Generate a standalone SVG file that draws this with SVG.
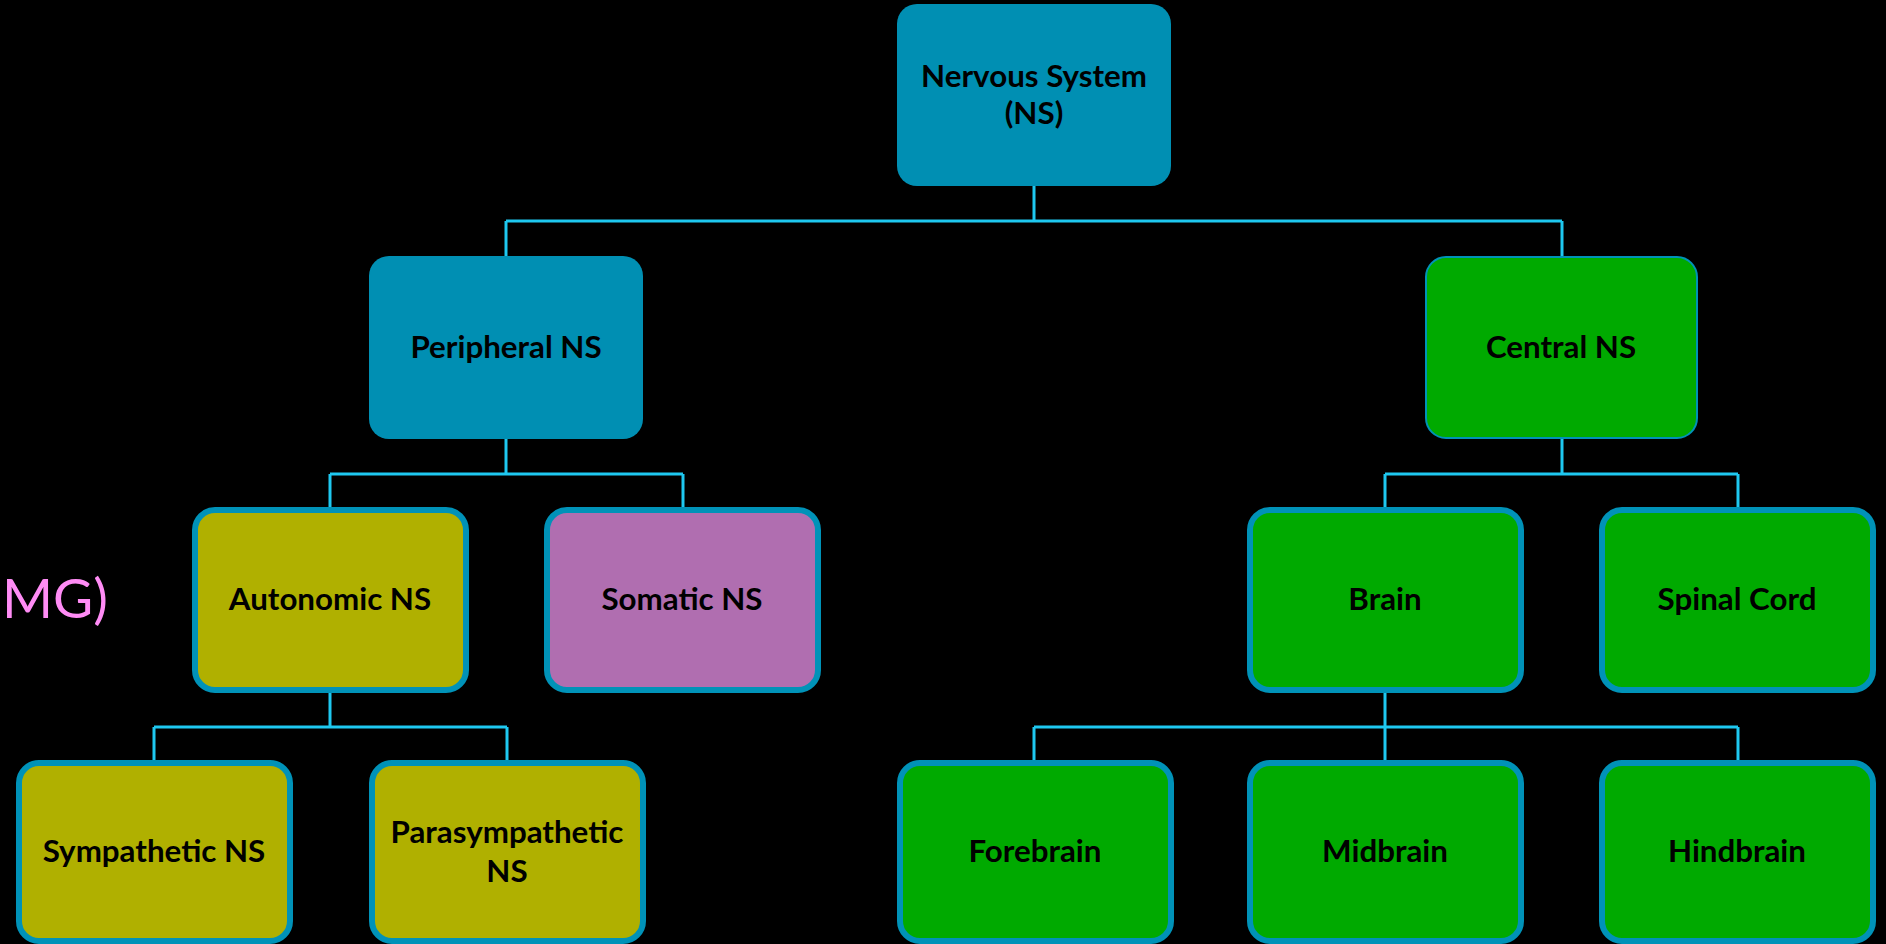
<svg xmlns="http://www.w3.org/2000/svg" width="1886" height="944" viewBox="0 0 1886 944">
<style>
.t{font-family:Lato,"Open Sans","Liberation Sans",sans-serif;font-weight:bold;font-size:31.3px;fill:#000;text-anchor:middle}
.blue{fill:#008FB3}
.green{fill:#00AA00}
.olive{fill:#B0B000}
.purple{fill:#B06EB0}
.bd{stroke:#0092B8;stroke-width:6}
.thin{stroke:#0092B8;stroke-width:2}
.c{fill:none;stroke:#1EC8F0;stroke-width:3}
</style>
<rect width="1886" height="944" fill="#000"/>
<text x="2" y="618" font-family="Lato,'Open Sans','Liberation Sans',sans-serif" font-size="55" fill="#FF8CF5">MG)</text>
<g id="connectors">
<path class="c" d="M1034 186V221M506 221H1562M506 221V256M1562 221V256"/>
<path class="c" d="M506 439V474M330 474H683M330 474V507M683 474V507"/>
<path class="c" d="M1562 439V474M1385 474H1738M1385 474V507M1738 474V507"/>
<path class="c" d="M330 693V727M154 727H507M154 727V760M507 727V760"/>
<path class="c" d="M1385 693V727M1034 727H1738M1034 727V760M1385 727V760M1738 727V760"/>
</g>
<g id="nervous-system"><rect class="blue" x="897" y="4" width="274" height="182" rx="20"/><text class="t" x="1034" y="87">Nervous System</text><text class="t" x="1034" y="124">(NS)</text></g>
<g id="peripheral-ns"><rect class="blue" x="369" y="256" width="274" height="183" rx="20"/><text class="t" x="506" y="358">Peripheral NS</text></g>
<g id="central-ns"><rect class="green thin" x="1426" y="257" width="271" height="181" rx="20"/><text class="t" x="1561" y="358">Central NS</text></g>
<g id="autonomic-ns"><rect class="olive bd" x="195" y="510" width="271" height="180" rx="20"/><text class="t" x="330" y="610">Autonomic NS</text></g>
<g id="somatic-ns"><rect class="purple bd" x="547" y="510" width="271" height="180" rx="20"/><text class="t" x="682" y="610">Somatic NS</text></g>
<g id="brain"><rect class="green bd" x="1250" y="510" width="271" height="180" rx="20"/><text class="t" x="1385" y="610">Brain</text></g>
<g id="spinal-cord"><rect class="green bd" x="1602" y="510" width="271" height="180" rx="20"/><text class="t" x="1737" y="610">Spinal Cord</text></g>
<g id="sympathetic-ns"><rect class="olive bd" x="19" y="763" width="271" height="178" rx="20"/><text class="t" x="154" y="862">Sympathetic NS</text></g>
<g id="parasympathetic-ns"><rect class="olive bd" x="372" y="763" width="271" height="178" rx="20"/><text class="t" x="507" y="843">Parasympathetic</text><text class="t" x="507" y="882">NS</text></g>
<g id="forebrain"><rect class="green bd" x="900" y="763" width="271" height="178" rx="20"/><text class="t" x="1035" y="862">Forebrain</text></g>
<g id="midbrain"><rect class="green bd" x="1250" y="763" width="271" height="178" rx="20"/><text class="t" x="1385" y="862">Midbrain</text></g>
<g id="hindbrain"><rect class="green bd" x="1602" y="763" width="271" height="178" rx="20"/><text class="t" x="1737" y="862">Hindbrain</text></g>
</svg>
